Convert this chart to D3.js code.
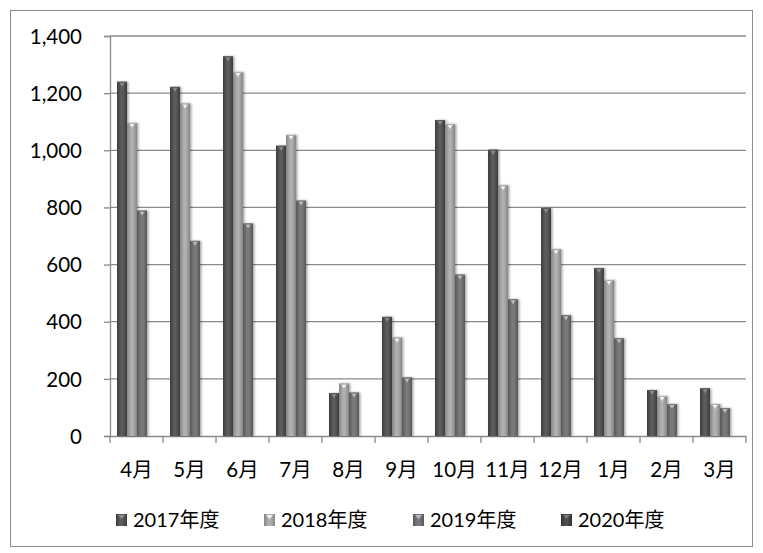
<!DOCTYPE html>
<html>
<head>
<meta charset="utf-8">
<script src="https://cdn.jsdelivr.net/npm/d3@7"></script>
<style>
  body { margin: 0; background: #fff; }
  svg text { font-family: Lato, 'Noto Sans CJK JP', sans-serif; fill: #000; }
</style>
</head>
<body>
<svg id="chart" width="763" height="553"></svg>
<script>
const months = ['4月', '5月', '6月', '7月', '8月', '9月', '10月', '11月', '12月', '1月', '2月', '3月'];
const seriesNames = ['2017年度', '2018年度', '2019年度', '2020年度'];
const v2017 = [1240, 1222, 1329, 1016, 150, 417, 1106, 1002, 798, 588, 161, 167];
const v2018 = [1096, 1164, 1274, 1054, 184, 345, 1092, 878, 654, 546, 140, 112];
const v2019 = [789, 683, 744, 824, 152, 205, 565, 479, 423, 342, 112, 98];
const v2020 = [0, 0, 0, 0, 0, 0, 0, 0, 0, 0, 0, 0];
const yTicks = [0, 200, 400, 600, 800, 1000, 1200, 1400];

const seriesValues = [v2017, v2018, v2019, v2020];
// edge / middle colours for the bevelled bars
const shades = [
  { edge: '#3b3b3b', mid: '#5c5c5c', cap: '#8a8a8a' },
  { edge: '#858585', mid: '#b0b0b0', cap: '#f2f2f2' },
  { edge: '#585858', mid: '#7a7a7a', cap: '#bdbdbd' },
  { edge: '#333333', mid: '#4d4d4d', cap: '#7a7a7a' },
];

const plotLeft = 110, plotRight = 746, plotTop = 36, plotBottom = 436;
const svg = d3.select('#chart');

// gradients
const defs = svg.append('defs');
shades.forEach((s, i) => {
  const g = defs.append('linearGradient').attr('id', 'g' + i)
    .attr('x1', 0).attr('x2', 1).attr('y1', 0).attr('y2', 0);
  g.append('stop').attr('offset', '0%').attr('stop-color', s.edge);
  g.append('stop').attr('offset', '40%').attr('stop-color', s.mid);
  g.append('stop').attr('offset', '60%').attr('stop-color', s.mid);
  g.append('stop').attr('offset', '100%').attr('stop-color', s.edge);
});
const shadow = defs.append('filter').attr('id', 'shadow')
  .attr('x', '-50%').attr('y', '-10%').attr('width', '200%').attr('height', '120%');
shadow.append('feDropShadow').attr('dx', 1.5).attr('dy', 0).attr('stdDeviation', 1.2)
  .attr('flood-color', '#000').attr('flood-opacity', 0.35);

// outer frame
svg.append('rect')
  .attr('x', 10.5).attr('y', 10.5).attr('width', 742).attr('height', 536)
  .attr('fill', 'none').attr('stroke', '#8c8c8c').attr('stroke-width', 1);

// scales
const x0 = d3.scaleBand().domain(months).range([plotLeft, plotRight]);
const bw = x0.bandwidth();
const x1 = d3.scaleBand().domain(seriesNames).range([7, bw - 6]);
const y = d3.scaleLinear().domain([0, 1400]).range([plotBottom, plotTop]);

// gridlines
svg.append('g')
  .selectAll('line')
  .data(yTicks.filter((d) => d > 0))
  .join('line')
  .attr('x1', plotLeft).attr('x2', plotRight)
  .attr('y1', (d) => y(d)).attr('y2', (d) => y(d))
  .attr('stroke', '#8a8a8a').attr('stroke-width', 1.3);

// y axis
const yAxis = d3.axisLeft(y).tickValues(yTicks).tickSize(6).tickPadding(22)
  .tickFormat(d3.format(','));
const gy = svg.append('g').attr('transform', `translate(${plotLeft},0)`).call(yAxis);
gy.select('.domain').attr('stroke', '#8a8a8a').attr('stroke-width', 1.3);
gy.selectAll('.tick line').attr('stroke', '#8a8a8a').attr('stroke-width', 1.3);
gy.selectAll('.tick text').style('font-size', '20.5px').attr('dy', '0.35em');

// x axis
const xAxis = d3.axisBottom(x0).tickSize(0).tickPadding(26);
const gx = svg.append('g').attr('transform', `translate(0,${plotBottom})`).call(xAxis);
gx.select('.domain').attr('stroke', '#8a8a8a').attr('stroke-width', 1.3);
gx.selectAll('.tick text').style('font-size', '20.5px');
// tick marks at category boundaries
svg.append('g')
  .selectAll('line')
  .data(months.concat(['end']))
  .join('line')
  .attr('x1', (d, i) => plotLeft + i * bw).attr('x2', (d, i) => plotLeft + i * bw)
  .attr('y1', plotBottom).attr('y2', plotBottom + 7)
  .attr('stroke', '#8a8a8a').attr('stroke-width', 1.3);

// bars
const groups = svg.append('g')
  .selectAll('g')
  .data(months)
  .join('g')
  .attr('transform', (d) => `translate(${x0(d)},0)`);

const bars = groups.selectAll('g')
  .data((m, mi) => seriesNames.map((s, si) => ({ s, si, v: seriesValues[si][mi] })))
  .join('g')
  .attr('transform', (d) => `translate(${x1(d.s)},0)`);

const barW = x1.bandwidth();
bars.filter((d) => d.v > 0).append('rect')
  .attr('x', 0).attr('width', barW)
  .attr('y', (d) => y(d.v))
  .attr('height', (d) => plotBottom - y(d.v))
  .attr('fill', (d) => `url(#g${d.si})`)
  .attr('filter', 'url(#shadow)');
// bevel cap on top of each bar
bars.filter((d) => d.v > 0).append('path')
  .attr('d', (d) => {
    const t = y(d.v);
    return `M${barW * 0.25},${t + 1} L${barW * 0.75},${t + 1} L${barW * 0.5},${t + 5} Z`;
  })
  .attr('fill', (d) => shades[d.si].cap);
bars.filter((d) => d.v > 0).append('line')
  .attr('x1', 0.5).attr('x2', barW - 0.5)
  .attr('y1', (d) => y(d.v) + 0.5).attr('y2', (d) => y(d.v) + 0.5)
  .attr('stroke', (d) => shades[d.si].mid).attr('stroke-width', 1);

// legend
const legendX = [116, 264, 413, 561];
const legend = svg.append('g')
  .selectAll('g')
  .data(seriesNames)
  .join('g')
  .attr('transform', (d, i) => `translate(${legendX[i]},514)`);
legend.append('rect')
  .attr('width', 11).attr('height', 12)
  .attr('fill', (d, i) => `url(#g${i})`);
legend.append('path')
  .attr('d', 'M2,1 L9,1 L5.5,5 Z')
  .attr('fill', (d, i) => shades[i].cap);
legend.append('text')
  .attr('x', 17).attr('y', 13)
  .style('font-size', '20px')
  .text((d) => d);
</script>
</body>
</html>
